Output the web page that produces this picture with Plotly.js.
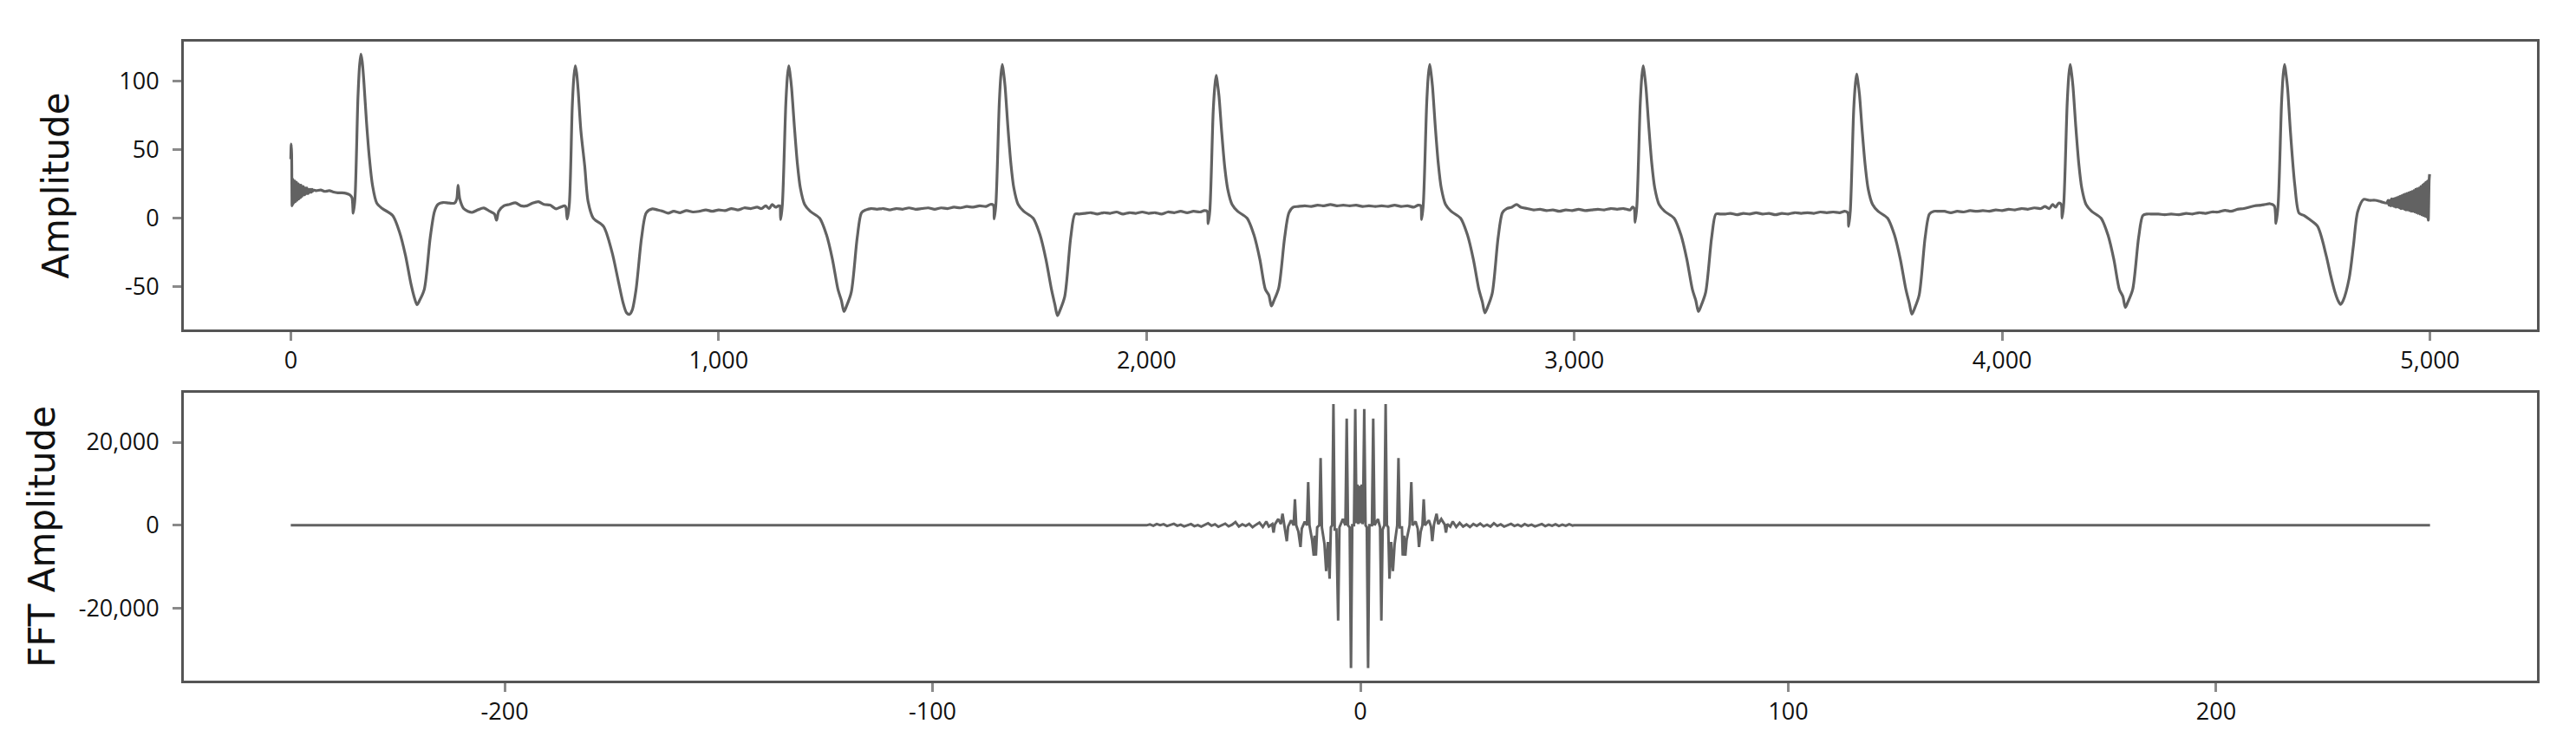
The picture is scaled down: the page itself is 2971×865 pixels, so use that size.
<!DOCTYPE html>
<html>
<head>
<meta charset="utf-8">
<script src="https://cdn.plot.ly/plotly-3.0.1.min.js"></script>
<style>
html,body{margin:0;padding:0;background:#ffffff;}
#chart{width:2971px;height:865px;}
</style>
</head>
<body>
<div id="chart"></div>
<script>
// ---------- ECG signal (sample index vs amplitude), vertices ----------
const ecgX = [
  0,1,2,3,4,5,6,7,8,9,10,11,12,13,14,15,16,17,18,19,20,21,22,23,24,25,26,27,28,29,30,31,32,33,34,35,36,37,38,39,40,41,42,43,44,45,46,47,48,49,50,51,52,60,70,80,90,100,110,120,130,138,
  143,146,150,157,161,164,167,170.5,177,184,191,201,214,238,254,268,281,289,295,301,312,326,336,344,356,
  370,383,388,391,395,404,414,424,437,451,465,476,481,486,498,511,525,538,552,565,579,592,606,620,630,640,
  643,646,651,658,662,665,668,671.5,678,687,695,707,731,751,765,777,785,792,798,807,820,831,845,857,
  870,882,895,910,925,940,955,970,985,1000,1015,1030,1045,1060,1075,1090,1100,1110,1118,1125,1133,1140,
  1143,1145,1149,1157,1161,1164,1167,1170.5,1177,1184,1191,1201,1214,1236,1252,1266,1279,1287,1293,1299,1310,1324,1334,1344,1356,
  1370,1385,1400,1415,1430,1445,1460,1475,1490,1505,1520,1535,1550,1565,1580,1595,1610,1625,1635,
  1642,1644,1648,1656,1660,1663,1666,1669.5,1676,1683,1690,1700,1713,1735,1751,1765,1778,1786,1792,1798,1809,1823,1833,1843,1855,
  1870,1885,1900,1915,1930,1945,1960,1975,1990,2005,2020,2035,2050,2065,2080,2095,2110,2125,2135,
  2142,2144,2148,2156,2160,2163,2166,2169.5,2176,2183,2190,2200,2213,2235,2251,2265,2278,2286,2292,2298,2309,2323,2333,2343,2355,
  2370,2385,2400,2415,2430,2445,2460,2475,2490,2505,2520,2535,2550,2565,2580,2595,2610,2625,2635,
  2641,2643,2647,2655,2659,2662,2665,2668.5,2675,2682,2689,2699,2712,2734,2750,2764,2777,2785,2791,2797,2808,2822,2832,2842,2854,
  2865,2875,2890,2905,2920,2935,2950,2965,2980,2995,3010,3025,3040,3055,3070,3085,3100,3115,3130,3136,
  3140,3142,3146,3154,3158,3161,3164,3167.5,3174,3181,3188,3198,3211,3233,3249,3263,3276,3284,3290,3296,3307,3321,3331,3341,3353,
  3365,3380,3395,3410,3425,3440,3455,3470,3485,3500,3515,3530,3545,3560,3575,3590,3605,3620,3632,
  3639,3641,3645,3653,3657,3660,3663,3666.5,3673,3680,3687,3697,3710,3732,3748,3762,3775,3783,3789,3795,3806,3820,3830,3840,3852,
  3865,3880,3895,3910,3925,3940,3955,3970,3985,4000,4015,4030,4045,4060,4075,4090,4100,4110,4118,4125,4132,
  4138,4140,4144,4152,4156,4159,4162,4165.5,4172,4179,4186,4196,4209,4231,4247,4261,4274,4282,4288,4294,4305,4319,4329,4339,4351,
  4365,4380,4395,4413,4430,4445,4460,4475,4490,4505,4521,4535,4550,4565,4589,4605,4615,
  4626,4636,4640,4645,4653,4657,4660,4663,4667,4674,4684,4694,4705,4717,4737,4757,4768,4778,4785,4791,4797,4811,4821,4831,4845,
  4858,4872,4885,4899,
  4902,4904,4906,4908,4910,4912,4914,4916,4918,4920,4922,4924,4926,4928,4930,4932,4934,4936,4938,4940,
  4942,4944,4946,4948,4950,4952,4954,4956,4958,4960,4962,4964,4966,4968,4970,4972,4974,4976,4978,4980,
  4982,4984,4986,4988,4990,4992,4994,4996,4998,4999
];
const ecgY = [
  43,54,47,9,29,10,28,11,27,12,27,12,26,13,26,13,25,14,25,14,24,15,24,15,24,16,23,16,23,17,23,17,22,17,22,18,22,18,22,18,21,18,21,19,21,19,21,19,21,19,21,19.5,20.5,20,20.5,19.5,20,19,18.5,18.5,18,17,
  15,3.6,14,88,112,119.5,114,101,70,43,24,11,7,2,-10,-27,-48,-58,-63,-60,-52,-14,5,10,11.4,
  11,11,14,24,14,7,5,4.2,6,7.4,5,3,-1.5,5,9,10,11.2,9,9,11,12,10,9.5,6.8,8,9,
  8,-0.6,10,82,104,111,106,94,64,38,12,0,-6,-25,-45,-62,-69,-70,-67,-52,-14,4,6.8,6,
  5,3.6,5,4,5.5,4.5,5,6,5,6,5.5,7,6,7.5,7,8,7,9,7,10,8,9,
  9,-1,10,83,104,111,105,95,67,40,22,10,5,0,-12,-30,-52,-60,-68,-64,-54,-14,4,6,7,
  6.5,7,6,7,6.5,7.5,6.5,7,7.5,6.5,7.5,7,8,7.5,8.5,8,9,8.5,10,
  9.5,-0.5,10,84,105,112,106,96,67,40,22,10,5,0,-12,-30,-52,-63,-71,-67,-57,-14,3,3,3.5,
  4,3,4,3.5,4.5,3,4,3.5,4.5,3.5,4,3,4.5,4,5,4,5,4.5,5.5,
  5,-4,5,78,97,104,98,89,62,37,21,10,5,0,-12,-30,-52,-56,-64,-60,-51,-14,4,8,8.5,
  9,8.5,9.5,9,10,9,9.5,9,9.5,8.5,9,8.5,9,8.5,9.5,8.5,9,8,9.5,
  9,-1,10,84,105,112,106,96,67,40,22,10,5,0,-12,-30,-52,-61,-69,-65,-55,-14,4,7,8,
  10,8,7,6,6.5,5.5,6,5,6,5.5,6.5,5.5,6,6.5,6,7,6.5,7,6,8,
  7,-3,8,83,104,111,105,95,67,40,22,10,5,0,-12,-30,-52,-60,-68,-64,-54,-14,3,3,3,
  3.5,2.5,3.5,3,4,3,3.5,2.5,3.5,3,4,3.5,4,3.5,4.5,4,4.5,4,5,
  4,-6,5,79,98,105,99,90,63,38,21,10,5,0,-12,-30,-52,-62,-70,-66,-56,-14,3,5,5,
  5,4,5,4.5,5.5,5,5.5,5,6,5.5,6.5,6,7,6.5,7.5,7,8.5,7,10,8,11,
  10,0,11,84,105,112,106,96,67,40,22,10,5,0,-12,-30,-52,-57,-65,-61,-52,-14,2,3,3,
  3,2.5,3,2.5,3.5,3,4,3.5,4.5,4.5,5.7,5,6.5,7,8.9,9.5,10,
  10.5,9,-3.8,10,84,105,112,106,95,62,24,3.6,2,-0.6,-5.9,-26.8,-42,-54,-60,-62.8,-60,-43.8,-20,4.8,13.7,
  13,13,12,11,
  13,9.5,13,9,14,9,14,8.5,14.5,8,15,8,15.5,7.5,16,7,16.5,7,17,6.5,
  17.5,6,18,6,18.5,5.5,19,5,19.5,5,20,4.5,21,4,21.5,3.5,22,3,23,2.5,
  24,2,25,1.5,26,1,27,-1.5,28,32
];

// ---------- FFT (frequency vs amplitude), vertices ----------
const fftF = [
  -250,-50,
  -49.2,-48.4,-47.6,-46.8,-46,-45.2,-44.4,-43.6,-42.8,-42,-41.2,-40.4,-39.6,-38.8,-38,-37.2,-36.4,-35.6,-34.8,-34,
  -33.2,-32.4,-31.6,-30.8,-30,-29.2,-28.4,-27.6,-26.8,-26,-25.2,-24.4,-23.6,-22.8,-22,-21.4,
  -20.6,-20.3,-20,-19.2,-18.6,-18.2,-17.8,-17.2,-16.9,-16.2,-15.6,-15.3,-15,-14.5,-14,-13.7,-13,-12.5,-12.2,-11.9,
  -11.3,-10.9,-10.7,-10.4,-10.1,-9.6,-9.3,-9,-8.4,-8,-7.6,-7.2,-6.9,-6.6,-6.3,-6,-5.6,-5.2,-4.9,-4.1,
  -3.5,-3.2,-2.9,-2.5,-2.2,-1.9,-1.5,-1.2,-0.9,-0.7,-0.5,-0.3,-0.1,0,0.1,0.3,0.5,0.6,0.9,1.2,
  1.5,1.8,2.1,2.7,3,3.3,4.1,4.6,4.9,5.2,5.6,5.9,6.2,6.5,6.8,7.2,7.6,8,8.6,8.9,
  9.2,9.7,9.9,10.2,10.5,10.8,11.5,11.9,12.2,12.9,13.4,13.7,14.1,14.5,14.8,15.1,16,16.5,16.8,17.2,
  17.8,18.2,18.9,19.7,20,20.3,
  21,21.6,22.4,23.2,24,24.8,25.6,26.4,27.2,28,28.8,29.6,30.4,31.2,32,32.8,33.6,34.4,35.2,36,
  36.8,37.6,38.4,39.2,40,40.8,41.6,42.4,43.2,44,44.8,45.6,46.4,47.2,48,48.8,49.6,
  50,250
];
const fftA = [
  0,0,
  200,-100,300,50,250,-150,100,350,-100,150,-250,100,300,-200,50,-300,150,500,-100,250,
  -350,100,400,-250,150,800,-300,250,-150,350,-450,150,650,-400,900,-300,
  300,-1736,200,1500,300,2778,200,-3819,-300,1200,0,6250,0,-1500,-5208,-800,900,0,10417,0,
  -3500,-7290,-2500,-7290,-500,0,16180,-500,-4500,-11000,-4000,-12850,-500,0,29167,-1000,-1000,-22917,-500,1500,
  0,25700,0,-500,-34375,0,0,28000,500,9800,300,9500,500,2500,500,9800,300,1000,28000,0,
  -500,-34375,0,0,25700,0,1500,-500,-22917,-1000,0,29167,0,-500,-12850,-4000,-11000,-4500,0,16180,
  -500,-500,-7290,-2500,-7290,-3500,0,10417,0,900,-800,-5208,-1500,0,6250,0,1200,-300,-3819,200,
  2778,300,1500,200,-1736,300,
  -300,900,-400,600,-300,200,-400,300,-150,400,-250,150,-300,500,-150,250,-300,100,350,-150,
  150,-250,300,-100,150,-250,100,300,-200,150,-100,250,-150,150,-100,250,-50,
  0,0
];

// ---------- Axis ticks ----------
const sampleTickVals = [0, 1000, 2000, 3000, 4000, 5000];
const sampleTickText = ['0', '1,000', '2,000', '3,000', '4,000', '5,000'];
const ampTickVals = [-50, 0, 50, 100];
const ampTickText = ['-50', '0', '50', '100'];
const freqTickVals = [-200, -100, 0, 100, 200];
const freqTickText = ['-200', '-100', '0', '100', '200'];
const fftTickVals = [-20000, 0, 20000];
const fftTickText = ['-20,000', '0', '20,000'];

const lineColor = '#626262';
const tickFont = {family: 'Open Sans, Noto Sans, sans-serif', size: 27, color: '#111111'};
const titleFont = {family: 'DejaVu Sans, sans-serif', size: 42, color: '#111111'};

function axisBase() {
  return {
    showline: true, linecolor: '#555555', linewidth: 3, mirror: true,
    ticks: 'outside', ticklen: 10, tickwidth: 2.5, tickcolor: '#8a8a8a',
    showgrid: false, zeroline: false, tickfont: tickFont,
    tickmode: 'array', fixedrange: true
  };
}

const traces = [
  {x: ecgX, y: ecgY, xaxis: 'x', yaxis: 'y', type: 'scatter', mode: 'lines',
   line: {color: lineColor, width: 3.2, shape: 'spline', smoothing: 0.8}, hoverinfo: 'skip'},
  {x: fftF, y: fftA, xaxis: 'x2', yaxis: 'y2', type: 'scatter', mode: 'lines',
   line: {color: lineColor, width: 3}, hoverinfo: 'skip'}
];

const layout = {
  width: 2971, height: 865,
  margin: {l: 212, r: 45, t: 48, b: 80},
  paper_bgcolor: '#ffffff', plot_bgcolor: '#ffffff',
  showlegend: false,
  xaxis: Object.assign(axisBase(), {
    domain: [0, 1], anchor: 'y', range: [-250, 5250],
    tickvals: sampleTickVals, ticktext: sampleTickText
  }),
  yaxis: Object.assign(axisBase(), {
    domain: [0.5495, 1], anchor: 'x', range: [-81.1, 128.6],
    tickvals: ampTickVals, ticktext: ampTickText, ticklabelstandoff: 10,
    title: {text: 'Amplitude', font: titleFont, standoff: 45}
  }),
  xaxis2: Object.assign(axisBase(), {
    domain: [0, 1], anchor: 'y2', range: [-275, 275],
    tickvals: freqTickVals, ticktext: freqTickText
  }),
  yaxis2: Object.assign(axisBase(), {
    domain: [0, 0.4509], anchor: 'x2', range: [-37380, 31960],
    tickvals: fftTickVals, ticktext: fftTickText, ticklabelstandoff: 10,
    title: {text: 'FFT Amplitude', font: titleFont, standoff: 15}
  })
};

Plotly.newPlot('chart', traces, layout, {displayModeBar: false, responsive: false});
</script>
</body>
</html>
